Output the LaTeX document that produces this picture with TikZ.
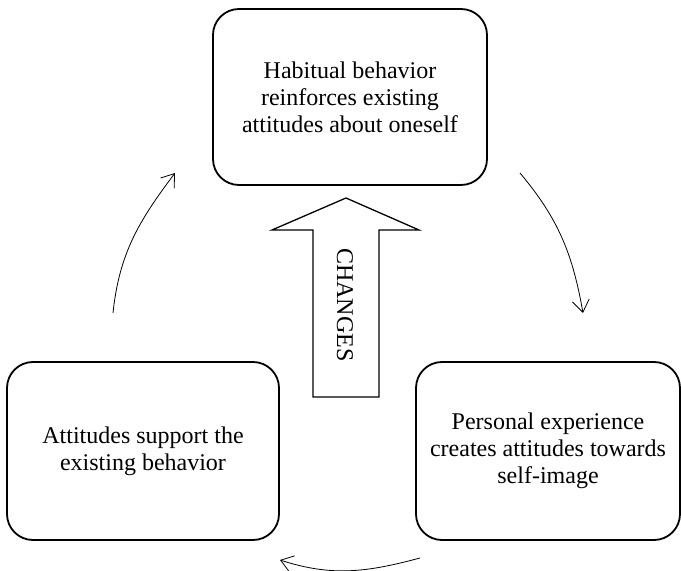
\documentclass[tikz,border=0pt]{standalone}
\usepackage{fontspec}
\setmainfont{Liberation Serif}
\usetikzlibrary{arrows.meta}

\begin{document}
\begin{tikzpicture}[x=1pt, y=1pt,
        stage/.style={draw, line width=1.8pt, rounded corners=26pt, align=center,
                font=\fontsize{24}{27}\selectfont, inner sep=0pt},
        loopline/.style={line width=0.8pt, -{Straight Barb[length=12pt,width=17pt]}}]
        \useasboundingbox (0,0) rectangle (681,571);

        \node[stage, minimum width=274, minimum height=176] (habit) at (350,474)
                {Habitual behavior\\reinforces existing\\attitudes about oneself};
        \node[stage, minimum width=264, minimum height=178] (exper) at (548,120)
                {Personal experience\\creates attitudes towards\\self-image};
        \node[stage, minimum width=272, minimum height=178] (support) at (143,120)
                {Attitudes support the\\existing behavior};

        % big arrow in the middle
        \draw[line width=1.3pt] (313,174) -- (313,341) -- (272,341) -- (346,373)
                -- (419,341) -- (379,341) -- (379,174) -- cycle;
        \node[rotate=-90, font=\fontsize{24}{27}\selectfont] (changes) at (345,266) {CHANGES};

        % free ends of the curved arrows
        \coordinate (a1) at (520,398);
        \coordinate (a2) at (583,258);
        \coordinate (b1) at (420,13);
        \coordinate (b2) at (280,11);
        \coordinate (c1) at (113,258);
        \coordinate (c2) at (175,398);

        \draw[loopline] (a1) to[out=-50, in=100] (a2);
        \draw[loopline] (b1) to[out=195, in=-18] (b2);
        \draw[loopline] (c1) to[out=84, in=-127] (c2);
    \end{tikzpicture}
\end{document}
